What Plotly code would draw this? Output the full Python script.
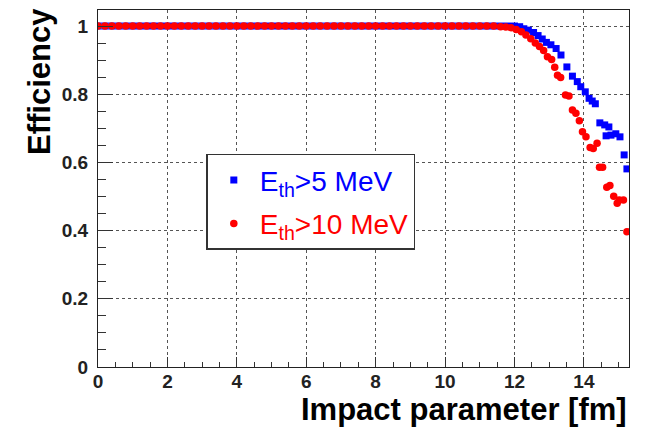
import plotly.graph_objects as go

# ---------------- data ----------------
flat_x = [0.0, 0.2, 0.4, 0.6, 0.8, 1.0, 1.2, 1.4, 1.6, 1.8, 2.0, 2.2, 2.4, 2.6, 2.8,
          3.0, 3.2, 3.4, 3.6, 3.8, 4.0, 4.2, 4.4, 4.6, 4.8, 5.0, 5.2, 5.4, 5.6, 5.8,
          6.0, 6.2, 6.4, 6.6, 6.8, 7.0, 7.2, 7.4, 7.6, 7.8, 8.0, 8.2, 8.4, 8.6, 8.8,
          9.0, 9.2, 9.4, 9.6, 9.8, 10.0, 10.2, 10.4, 10.6, 10.8, 11.0, 11.2, 11.4]
flat_y = [1.0] * len(flat_x)

blue_tail_x = [11.6, 11.8, 12.0, 12.15, 12.27, 12.4, 12.55, 12.68, 12.8, 12.92, 13.05,
               13.2, 13.34, 13.51, 13.67, 13.81, 13.91, 14.04, 14.15, 14.24, 14.33,
               14.46, 14.6, 14.72, 14.64, 14.78, 14.92, 15.04, 15.16, 15.24]
blue_tail_y = [1.0, 1.0, 1.0, 0.998, 0.992, 0.988, 0.981, 0.972, 0.962, 0.952, 0.945,
               0.934, 0.915, 0.880, 0.853, 0.837, 0.822, 0.807, 0.788, 0.780, 0.772,
               0.716, 0.710, 0.704, 0.678, 0.680, 0.684, 0.675, 0.622, 0.581]

red_tail_x = [11.6, 11.75, 11.9, 12.05, 12.2, 12.33, 12.47, 12.6, 12.72, 12.84, 12.95,
              13.07, 13.16, 13.24, 13.33, 13.47, 13.57, 13.67, 13.77, 13.87, 13.96,
              14.06, 14.18, 14.27, 14.38, 14.45, 14.54, 14.66, 14.75, 14.86, 14.96,
              15.02, 15.14, 15.24]
red_tail_y = [0.998, 0.997, 0.995, 0.99, 0.983, 0.974, 0.963, 0.95, 0.94, 0.928, 0.91,
              0.902, 0.879, 0.856, 0.849, 0.798, 0.795, 0.754, 0.744, 0.722, 0.69,
              0.675, 0.644, 0.641, 0.656, 0.586, 0.586, 0.527, 0.532, 0.501, 0.48,
              0.49, 0.49, 0.397]

blue_x = flat_x + blue_tail_x
blue_y = flat_y + blue_tail_y
red_x = flat_x + red_tail_x
red_y = flat_y + red_tail_y

x_ticks = [0, 2, 4, 6, 8, 10, 12, 14]
y_ticks = [0, 0.2, 0.4, 0.6, 0.8, 1.0]
y_tick_labels = ["0", "0.2", "0.4", "0.6", "0.8", "1"]

blue_name = '<span style="color:#0000ff">E<sub>th</sub>&gt;5 MeV</span>'
red_name = '<span style="color:#ff0000">E<sub>th</sub>&gt;10 MeV</span>'

FONT = "Liberation Sans, Arial, sans-serif"

fig = go.Figure()
fig.add_trace(go.Scatter(
    x=blue_x, y=blue_y, mode="markers", name=blue_name, legendgroup="b",
    marker=dict(symbol="square", size=7, color="#0000ff", line=dict(width=0)),
))
fig.add_trace(go.Scatter(
    x=red_x, y=red_y, mode="markers", name=red_name, legendgroup="r",
    marker=dict(symbol="circle", size=7.5, color="#ff0000", line=dict(width=0)),
))

axis_common = dict(
    showline=True, linecolor="#222", linewidth=1.2, mirror=True,
    showgrid=True, gridcolor="#555", gridwidth=1, griddash="dot",
    zeroline=False, ticks="inside", tickcolor="#333", tickwidth=1.2,
    tickfont=dict(family=FONT, size=19, color="#222", weight="bold"),
    automargin=False,
)

fig.update_xaxes(
    range=[0, 15.3], tickvals=x_ticks, ticklen=10, ticklabelstandoff=-3,
    minor=dict(dtick=0.5, tick0=0, ticks="inside", ticklen=5, tickcolor="#333",
               tickwidth=1.2, showgrid=False),
    **axis_common,
)
fig.update_yaxes(
    range=[0, 1.047], tickvals=y_ticks, ticktext=y_tick_labels, ticklen=15,
    ticklabelstandoff=5,
    minor=dict(dtick=0.05, tick0=0, ticks="inside", ticklen=8, tickcolor="#333",
               tickwidth=1.2, showgrid=False),
    **axis_common,
)

fig.add_annotation(
    text="<b>Efficiency</b>", xref="paper", yref="paper",
    x=-0.11, y=0.80, xanchor="center", yanchor="middle", textangle=-90,
    showarrow=False, font=dict(family=FONT, size=31, color="#000"),
)
fig.add_annotation(
    text="<b>Impact parameter [fm]</b>", xref="paper", yref="paper",
    x=1.0, y=-0.118, xanchor="right", yanchor="middle",
    showarrow=False, font=dict(family=FONT, size=31, color="#000"),
)

fig.update_layout(
    width=648, height=429,
    margin=dict(l=98, r=19, t=10, b=62),
    paper_bgcolor="white", plot_bgcolor="white",
    font=dict(family=FONT),
    showlegend=True,
    legend=dict(
        x=0.204, y=0.597, xanchor="left", yanchor="top",
        bgcolor="white", bordercolor="#333", borderwidth=1.5,
        font=dict(family=FONT, size=28),
        tracegroupgap=4, itemsizing="trace", itemwidth=42,
    ),
)

fig.write_html("out.html", config={"displayModeBar": False},
               post_script="document.body.style.margin='0';")
